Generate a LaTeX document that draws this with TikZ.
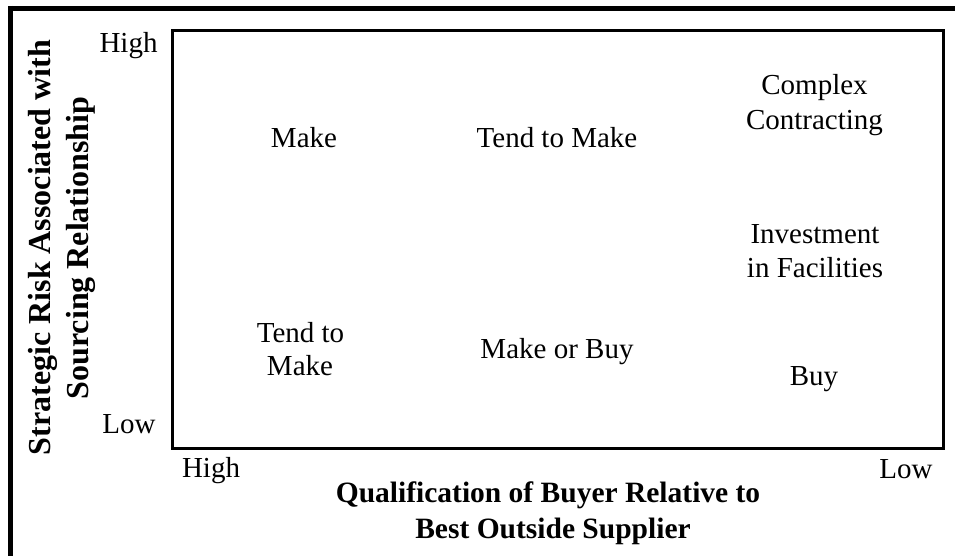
\documentclass[tikz,border=0pt]{standalone}
\usepackage{fontspec}
\setmainfont{Liberation Serif}
\begin{document}
\begin{tikzpicture}[x=1pt,y=-1pt,
  lbl/.style={anchor=base,inner sep=0pt,font=\fontsize{29}{35}\selectfont,align=center},
  ttl/.style={anchor=base,inner sep=0pt,font=\fontsize{29.5}{36}\selectfont\bfseries,align=center},
  vttl/.style={anchor=base,inner sep=0pt,rotate=90,font=\fontsize{32}{36}\selectfont\bfseries,align=center},
  frame/.style={line width=5pt},
  plotbox/.style={line width=2.5pt}]
\useasboundingbox (0,0) rectangle (955,556);
% outer frame (top and left only)
\coordinate (ftr) at (955,8.5);
\coordinate (ftl) at (8.3,8.5);
\coordinate (fbl) at (10.8,556);
\coordinate (fbt) at (10.8,6);
\draw[frame] (ftl) -- (ftr);
\draw[frame] (fbt) -- (fbl);
% plot box
\node[plotbox,draw,minimum width=771pt,minimum height=417.5pt,inner sep=0pt,anchor=north west] (box) at (171,29.5) {};
% axis labels
\node[lbl] (yhigh) at (128.5,53) {High};
\node[lbl] (ylow) at (129,433) {Low};
\node[lbl] (xhigh) at (211,477) {High};
\node[lbl] (xlow) at (906,478) {Low};
% cells
\node[lbl] (make) at (304,148) {Make};
\node[lbl] (tendmake) at (557,148) {Tend to Make};
\node[lbl] (complex1) at (814.5,95) {Complex};
\node[lbl] (complex2) at (814.5,130) {Contracting};
\node[lbl] (inv1) at (815,243) {Investment};
\node[lbl] (inv2) at (815,277) {in Facilities};
\node[lbl] (tend1) at (300.5,342) {Tend to};
\node[lbl] (tend2) at (300,375) {Make};
\node[lbl] (makebuy) at (557,358) {Make or Buy};
\node[lbl] (buy) at (814,385) {Buy};
% titles
\node[ttl] (xt1) at (548,502) {Qualification of Buyer Relative to};
\node[ttl] (xt2) at (553,538) {Best Outside Supplier};
\node[vttl] (yt1) at (50,247.5) {Strategic Risk Associated with};
\node[vttl] (yt2) at (88,248) {Sourcing Relationship};
\end{tikzpicture}
\end{document}
